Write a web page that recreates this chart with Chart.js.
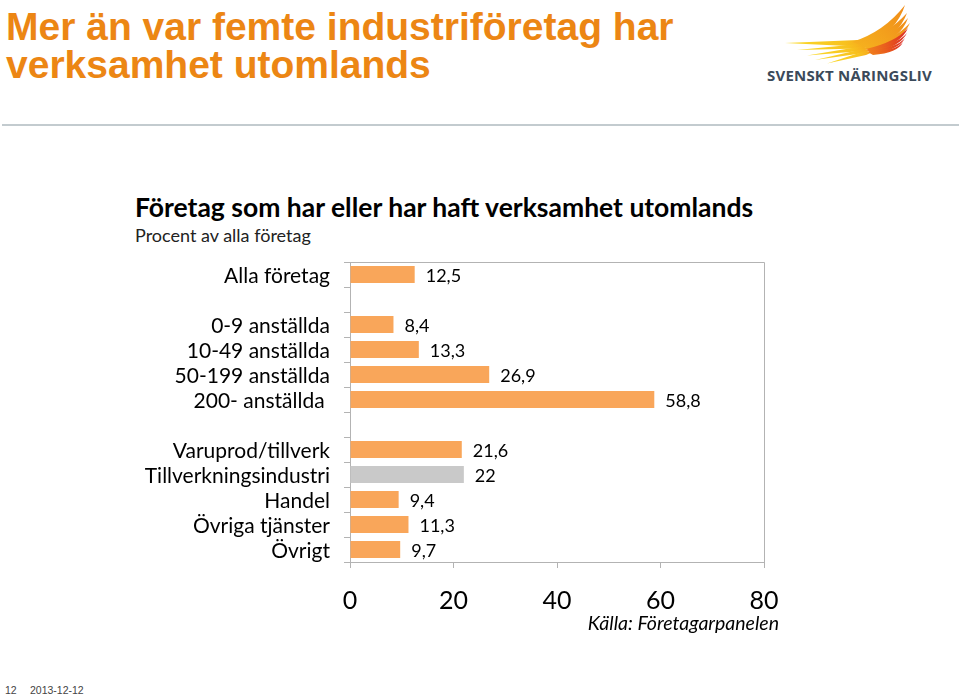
<!DOCTYPE html>
<html>
<head>
<meta charset="utf-8">
<script src="https://cdn.jsdelivr.net/npm/chart.js@4.4.1/dist/chart.umd.min.js"></script>
<style>
  html, body { margin:0; padding:0; background:#fff; }
  body { width:959px; height:696px; position:relative; overflow:hidden; }
  .abs { position:absolute; white-space:nowrap; }
  #title { left:6px; top:8px; font-family:"Liberation Sans", Arial, sans-serif; font-weight:bold; font-size:39px; line-height:38px; color:#EC8614; }
  #divider { left:2px; top:124px; width:957px; height:2px; background:#c3cbcf; }
  #ctitle { left:135px; top:191px; font-family:Lato, sans-serif; font-weight:bold; font-size:26.5px; line-height:32px; color:#000; }
  #csub { left:135px; top:224px; font-family:Lato, sans-serif; font-size:18px; line-height:22px; color:#222; }
  #source { right:180px; top:611px; font-family:Lato, sans-serif; font-style:italic; font-size:19.5px; line-height:24px; color:#000; }
  #logotext { left:767px; top:66px; font-family:"Open Sans", sans-serif; font-weight:bold; font-size:15px; line-height:18px; color:#3b4a5a; letter-spacing:0.2px; }
  #footer { left:5px; top:684px; font-family:"Liberation Sans", Arial, sans-serif; font-size:10.5px; line-height:12px; color:#444; }
  #footer span { position:absolute; top:0; }
  #chartwrap { left:0; top:250px; width:959px; height:400px; }
</style>
</head>
<body>
<script>
// ---- data ----
const categories = ['Alla företag', '', '0-9 anställda', '10-49 anställda', '50-199 anställda', '200- anställda ', '', 'Varuprod/tillverk', 'Tillverkningsindustri', 'Handel', 'Övriga tjänster', 'Övrigt'];
const values = [12.5, null, 8.4, 13.3, 26.9, 58.8, null, 21.6, 22, 9.4, 11.3, 9.7];
const highlightCategory = 'Tillverkningsindustri';
const xTicks = [0, 20, 40, 60, 80];
</script>

<div id="title" class="abs">Mer än var femte industriföretag har<br>verksamhet utomlands</div>
<svg class="abs" style="left:760px;top:0" width="199" height="100" viewBox="0 0 199 100">
  <defs>
    <linearGradient id="gy" x1="0" y1="0" x2="1" y2="0">
      <stop offset="0" stop-color="#FADB2A"/><stop offset="0.7" stop-color="#F8C21E"/><stop offset="1" stop-color="#F5A21C"/>
    </linearGradient>
    <linearGradient id="go" x1="0" y1="1" x2="1" y2="0">
      <stop offset="0" stop-color="#F6B21E"/><stop offset="1" stop-color="#F08C1A"/>
    </linearGradient>
    <linearGradient id="gr" x1="0" y1="1" x2="1" y2="0">
      <stop offset="0" stop-color="#F2871C"/><stop offset="0.6" stop-color="#E4471E"/><stop offset="1" stop-color="#D9262B"/>
    </linearGradient>
  </defs>
  <path d="M25 43 L98 40 L110 44 L98 46.5 Z" fill="url(#gy)"/>
  <path d="M37 50 L100 44 L110 46 L100 48.5 Z" fill="url(#gy)"/>
  <path d="M47 55.5 L101 46.5 L111 48 L102 51 Z" fill="url(#gy)"/>
  <path d="M55 60 L103 49 L112 50 L104 53 Z" fill="url(#gy)"/>
  <path d="M67 63.5 L105 51 L113 52 L106 55 Z" fill="url(#gy)"/>
  <path d="M92 42 Q124 32 145 5 Q137 30 108 47 Z" fill="url(#go)"/>
  <path d="M98 44 Q128 34 147 13 Q139 35 110 49 Z" fill="url(#go)"/>
  <path d="M102 46 Q132 37 148 18 Q141 38 112 50 Z" fill="url(#go)"/>
  <path d="M105 48 Q134 40 150 23 Q142 41 113 51 Z" fill="url(#go)"/>
  <path d="M106 49 Q136 42 148 28 Q141 44 113 52 Z" fill="url(#gr)"/>
  <path d="M107 50 Q137 45 147 33 Q140 47 113 53 Z" fill="url(#gr)"/>
  <path d="M108 51 Q137 48 145 38 Q139 50 113 54 Z" fill="url(#gr)"/>
  <path d="M108 52 Q136 51 143 42 Q138 53 113 55 Z" fill="url(#gr)"/>
</svg>
<div id="logotext" class="abs">SVENSKT NÄRINGSLIV</div>
<div id="divider" class="abs"></div>
<div id="ctitle" class="abs">Företag som har eller har haft verksamhet utomlands</div>
<div id="csub" class="abs">Procent av alla företag</div>
<div id="chartwrap" class="abs"><canvas id="c" width="959" height="400"></canvas></div>
<div id="source" class="abs">Källa: Företagarpanelen</div>
<div id="footer" class="abs"><span style="left:0">12</span><span style="left:25px">2013-12-12</span></div>

<script>
const AXIS_COLOR = '#b3b3b3';
const fmt = v => String(v).replace('.', ',');

const frame = {
  id: 'frame',
  afterDraw(chart) {
    const {ctx, chartArea: a} = chart;
    ctx.save();
    ctx.strokeStyle = AXIS_COLOR;
    ctx.lineWidth = 1;
    ctx.beginPath();
    ctx.moveTo(a.left, a.top + 0.5);
    ctx.lineTo(a.right + 0.5, a.top + 0.5);
    ctx.lineTo(a.right + 0.5, a.bottom);
    ctx.stroke();
    ctx.restore();
  }
};

const valueLabels = {
  id: 'valueLabels',
  afterDatasetsDraw(chart) {
    const {ctx} = chart;
    const meta = chart.getDatasetMeta(0);
    ctx.save();
    ctx.font = '18px Lato, sans-serif';
    ctx.fillStyle = '#000';
    ctx.textAlign = 'left';
    ctx.textBaseline = 'middle';
    meta.data.forEach((el, i) => {
      const v = chart.data.datasets[0].data[i];
      if (v == null) return;
      ctx.fillText(fmt(v), el.x + 11, el.y + 2);
    });
    ctx.restore();
  }
};

new Chart(document.getElementById('c'), {
  type: 'bar',
  data: {
    labels: categories,
    datasets: [{
      data: values,
      backgroundColor: categories.map(c => c === highlightCategory ? '#c9c9c9' : '#F9A65A'),
      borderWidth: 0,
      barPercentage: 0.68,
      categoryPercentage: 1
    }]
  },
  options: {
    indexAxis: 'y',
    responsive: false,
    animation: false,
    devicePixelRatio: 1,
    layout: { padding: { top: 12, right: 195, left: 0, bottom: 0 } },
    plugins: { legend: { display: false }, tooltip: { enabled: false } },
    scales: {
      x: {
        min: xTicks[0], max: xTicks[xTicks.length - 1],
        afterBuildTicks(s) { s.ticks = xTicks.map(v => ({ value: v })); },
        afterFit(s) { s.height = 88; s.paddingLeft = 0; s.paddingRight = 0; },
        grid: { drawOnChartArea: false, drawTicks: true, tickLength: 6, color: AXIS_COLOR },
        border: { color: AXIS_COLOR },
        ticks: { color: '#000', font: { family: 'Lato, sans-serif', size: 25 }, padding: 18, maxRotation: 0 }
      },
      y: {
        afterFit(s) { s.width = 350; s.paddingTop = 0; s.paddingBottom = 0; },
        grid: { drawOnChartArea: false, drawTicks: true, tickLength: 6, color: AXIS_COLOR, offset: true },
        border: { color: AXIS_COLOR },
        ticks: { color: '#000', font: { family: 'Lato, sans-serif', size: 21 }, padding: 14, autoSkip: false, labelOffset: 2 }
      }
    }
  },
  plugins: [frame, valueLabels]
});
</script>
</body>
</html>
